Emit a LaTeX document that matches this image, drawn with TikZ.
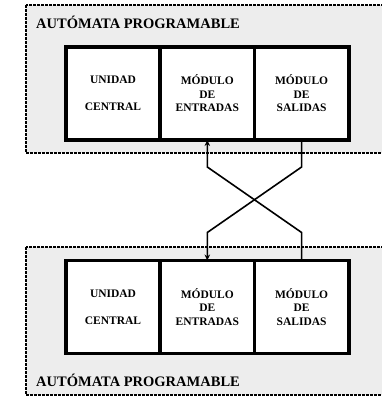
\documentclass[tikz,border=0pt]{standalone}
\usepackage{fontspec}
\setmainfont{Liberation Serif}
\usepackage{tikz}
\usetikzlibrary{positioning}
\usetikzlibrary{arrows.meta}

\begin{document}
\begin{tikzpicture}[x=1pt,y=-1pt,
    marco/.style={fill=black!7, line width=2.6pt, dash pattern=on 3pt off 1pt},
    modulo/.style={draw, fill=white, line width=3.5pt, outer sep=0pt,
      minimum width=94.3pt, minimum height=93pt, align=center,
      font=\fontsize{11.5}{13.5}\selectfont\bfseries},
    titulo/.style={anchor=west, inner sep=0pt, font=\fontsize{14.5}{16}\selectfont\bfseries},
    flecha/.style={line width=1.6pt, -{Stealth[length=6pt,width=5.5pt]}}]
  \useasboundingbox (0,0) rectangle (381,396);

  % automata de arriba
  \draw[marco] (26,5) rectangle (395,153);
  \node[titulo] (tit1) at (36,22) {AUTÓMATA PROGRAMABLE};
  \node[modulo] (uc1) at (113,93.5) {UNIDAD\\[13.5pt]CENTRAL};
  \node[modulo, right=0pt of uc1] (ent1) {MÓDULO\\DE\\ENTRADAS};
  \node[modulo, right=0pt of ent1] (sal1) {MÓDULO\\DE\\SALIDAS};

  % automata de abajo
  \draw[marco] (26,247) rectangle (395,395);
  \node[titulo] (tit2) at (36,380) {AUTÓMATA PROGRAMABLE};
  \node[modulo] (uc2) at (113,307) {UNIDAD\\[13.5pt]CENTRAL};
  \node[modulo, right=0pt of uc2] (ent2) {MÓDULO\\DE\\ENTRADAS};
  \node[modulo, right=0pt of ent2] (sal2) {MÓDULO\\DE\\SALIDAS};

  % conexiones cruzadas
  \draw[flecha] (sal1.south) -- ([yshift=-27pt]sal1.south)
    -- ([yshift=28pt]ent2.north) -- (ent2.north);
  \draw[flecha] (sal2.north) -- ([yshift=28pt]sal2.north)
    -- ([yshift=-27pt]ent1.south) -- (ent1.south);
\end{tikzpicture}
\end{document}
